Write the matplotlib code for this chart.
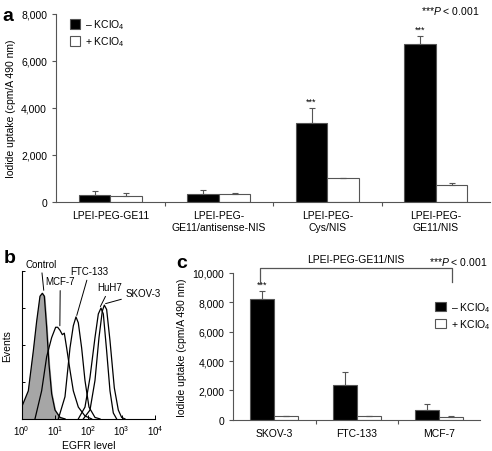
import numpy as np
import matplotlib
matplotlib.use("Agg")
import matplotlib.pyplot as plt

plt.rcParams["font.family"] = ["Liberation Sans", "DejaVu Sans"]
plt.rcParams["mathtext.fontset"] = "custom"
plt.rcParams["mathtext.rm"] = "Liberation Sans"
plt.rcParams["mathtext.it"] = "Liberation Sans:italic"

# panel a: iodide uptake for the four polyplexes
a_labels = ["LPEI-PEG-GE11", "LPEI-PEG-\nGE11/antisense-NIS",
            "LPEI-PEG-\nCys/NIS", "LPEI-PEG-\nGE11/NIS"]
a_minus = [300, 320, 3370, 6720]
a_minus_err = [160, 170, 620, 350]
a_plus = [270, 330, 1000, 710]
a_plus_err = [100, 60, 30, 100]
a_sig = [False, False, True, True]

# panel c: iodide uptake per cell line (LPEI-PEG-GE11/NIS)
c_labels = ["SKOV-3", "FTC-133", "MCF-7"]
c_minus = [8200, 2400, 640]
c_minus_err = [600, 860, 430]
c_plus = [260, 240, 220]
c_plus_err = [30, 30, 50]
c_sig = [True, False, False]

# panel b: EGFR flow cytometry histograms (log10 EGFR level, relative events)
control_lx = [0.0, 0.2, 0.35, 0.45, 0.55, 0.62, 0.68, 0.75, 0.82, 0.9, 1.0, 1.15, 1.3]
control_y = [0.08, 0.19, 0.46, 0.66, 0.83, 0.85, 0.83, 0.62, 0.37, 0.17, 0.06, 0.01, 0.0]
mcf7_lx = [0.4, 0.6, 0.75, 0.9, 1.02, 1.08, 1.15, 1.22, 1.28, 1.35, 1.45, 1.55, 1.7, 1.9, 2.1]
mcf7_y = [0.0, 0.19, 0.42, 0.55, 0.62, 0.62, 0.60, 0.57, 0.58, 0.48, 0.33, 0.19, 0.08, 0.02, 0.0]
ftc_lx = [1.1, 1.3, 1.45, 1.55, 1.63, 1.7, 1.8, 1.9, 2.02, 2.2, 2.35]
ftc_y = [0.0, 0.15, 0.48, 0.63, 0.69, 0.65, 0.48, 0.26, 0.08, 0.01, 0.0]
huh7_lx = [1.7, 1.9, 2.05, 2.2, 2.3, 2.38, 2.45, 2.55, 2.65, 2.75, 2.85]
huh7_y = [0.0, 0.08, 0.28, 0.55, 0.71, 0.75, 0.71, 0.46, 0.19, 0.04, 0.0]
skov3_lx = [1.85, 2.05, 2.2, 2.32, 2.42, 2.48, 2.55, 2.65, 2.78, 2.9, 3.0, 3.1]
skov3_y = [0.0, 0.06, 0.26, 0.55, 0.73, 0.77, 0.74, 0.53, 0.21, 0.06, 0.01, 0.0]

EDGE = "#555555"


def grouped_bars(ax, labels, minus, minus_err, plus, plus_err, sig, ymax):
    x = np.arange(len(labels))
    w = 0.29
    ax.bar(x - w / 2, minus, w, color="black", edgecolor=EDGE, lw=0.8,
           yerr=[np.zeros(len(x)), minus_err], ecolor=EDGE,
           error_kw=dict(lw=0.8, capsize=2.5, capthick=0.8),
           label="\u2013 KClO$_4$", zorder=2)
    ax.bar(x + w / 2, plus, w, color="white", edgecolor=EDGE, lw=0.8,
           yerr=[np.zeros(len(x)), plus_err], ecolor=EDGE,
           error_kw=dict(lw=0.8, capsize=2.5, capthick=0.8),
           label="+ KClO$_4$", zorder=2)
    for xi, v, e, s in zip(x, minus, minus_err, sig):
        if s:
            ax.text(xi - w / 2, v + e + ymax * 0.012, "***", ha="center",
                    va="bottom", fontsize=6.5)
    ax.set_xlim(-0.5, len(labels) - 0.5)
    ax.set_ylim(0, ymax)
    ax.set_xticks(x)
    ax.set_xticklabels(labels, fontsize=7.5)
    ax.set_xticks(np.arange(len(labels) - 1) + 0.5, minor=True)
    ax.tick_params(axis="x", which="major", length=0, pad=6)
    ax.tick_params(axis="x", which="minor", length=3, color=EDGE, width=0.8)
    ax.tick_params(axis="y", length=3, color=EDGE, width=0.8, labelsize=7.5)
    ax.yaxis.set_major_formatter(matplotlib.ticker.StrMethodFormatter("{x:,.0f}"))
    for side in ("top", "right"):
        ax.spines[side].set_visible(False)
    for side in ("left", "bottom"):
        ax.spines[side].set_color(EDGE)
        ax.spines[side].set_linewidth(0.8)
    ax.set_ylabel("Iodide uptake (cpm/A 490 nm)", fontsize=7.5)


fig = plt.figure(figsize=(4.92, 4.52), dpi=100)

# ---- panel a
ax_a = fig.add_axes([0.114, 0.551, 0.882, 0.416])
grouped_bars(ax_a, a_labels, a_minus, a_minus_err, a_plus, a_plus_err, a_sig, 8000)
ax_a.set_yticks([0, 2000, 4000, 6000, 8000])
ax_a.legend(loc="upper left", bbox_to_anchor=(0.01, 1.03), frameon=False,
            fontsize=7.5, handlelength=1.0, handleheight=1.0,
            handletextpad=0.5, labelspacing=0.3)
fig.text(0.975, 0.975, "***$P$ < 0.001", ha="right", va="center", fontsize=7.5)
fig.text(0.005, 0.963, "a", fontsize=14, fontweight="bold", va="center")

# ---- panel b
ax_b = fig.add_axes([0.044, 0.071, 0.271, 0.327])
curves = [(control_lx, control_y), (mcf7_lx, mcf7_y), (ftc_lx, ftc_y),
          (huh7_lx, huh7_y), (skov3_lx, skov3_y)]
for i, (lx, yv) in enumerate(curves):
    xv = 10 ** np.array(lx)
    if i == 0:
        ax_b.fill_between(xv, yv, color="#a6a6a6", zorder=1)
    ax_b.plot(xv, yv, color="black", lw=0.9, zorder=2)
ax_b.set_xscale("log")
ax_b.set_xlim(1, 1e4)
ax_b.set_ylim(0, 1)
ax_b.set_yticks([0, 0.25, 0.5, 0.75, 1.0])
ax_b.set_yticklabels([])
ax_b.tick_params(axis="y", direction="in", length=2, width=0.7)
ax_b.tick_params(axis="x", which="major", direction="in", length=3, width=0.7,
                 labelsize=7, pad=3)
ax_b.tick_params(axis="x", which="minor", direction="in", length=1.5, width=0.5)
ax_b.set_xticks([1, 10, 100, 1000, 10000])
ax_b.set_xticklabels(["10$^0$", "10$^1$", "10$^2$", "10$^3$", "10$^4$"])
for side in ("top", "right"):
    ax_b.spines[side].set_visible(False)
for side in ("left", "bottom"):
    ax_b.spines[side].set_linewidth(0.8)
ax_b.set_xlabel("EGFR level", fontsize=7.5, labelpad=2)
ax_b.set_ylabel("Events", fontsize=7.5, labelpad=3)
lbl = dict(fontsize=7, ha="left", va="center", xycoords="data",
           textcoords="data",
           arrowprops=dict(arrowstyle="-", lw=0.7, color="black",
                           shrinkA=1, shrinkB=0))
ax_b.annotate("Control", xy=(4.6, 0.87), xytext=(1.3, 1.05), **lbl)
ax_b.annotate("MCF-7", xy=(14, 0.63), xytext=(5.2, 0.93), **lbl)
ax_b.annotate("FTC-133", xy=(45, 0.70), xytext=(29, 1.0), **lbl)
ax_b.annotate("HuH7", xy=(230, 0.76), xytext=(190, 0.89), **lbl)
ax_b.annotate("SKOV-3", xy=(330, 0.78), xytext=(1300, 0.85), **lbl)
fig.text(0.008, 0.428, "b", fontsize=14, fontweight="bold", va="center")

# ---- panel c
ax_c = fig.add_axes([0.474, 0.069, 0.502, 0.325])
grouped_bars(ax_c, c_labels, c_minus, c_minus_err, c_plus, c_plus_err, c_sig, 10000)
ax_c.set_yticks([0, 2000, 4000, 6000, 8000, 10000])
ax_c.legend(loc="upper right", bbox_to_anchor=(1.08, 0.88), frameon=False,
            fontsize=7.5, handlelength=1.0, handleheight=1.0,
            handletextpad=0.5, labelspacing=0.3)
# bracket over the group
bx0, bx1 = -0.5 + 0.33, 2.16
ax_c.plot([bx0, bx0, bx1, bx1], [9400, 10330, 10330, 9400], color=EDGE,
          lw=0.9, clip_on=False)
ax_c.text((bx0 + bx1) / 2, 10600, "LPEI-PEG-GE11/NIS", ha="center",
          va="bottom", fontsize=7.5)
fig.text(0.99, 0.42, "***$P$ < 0.001", ha="right", va="center", fontsize=7.5)
fig.text(0.358, 0.418, "c", fontsize=14, fontweight="bold", va="center")

fig.savefig("out.png", dpi=100)
